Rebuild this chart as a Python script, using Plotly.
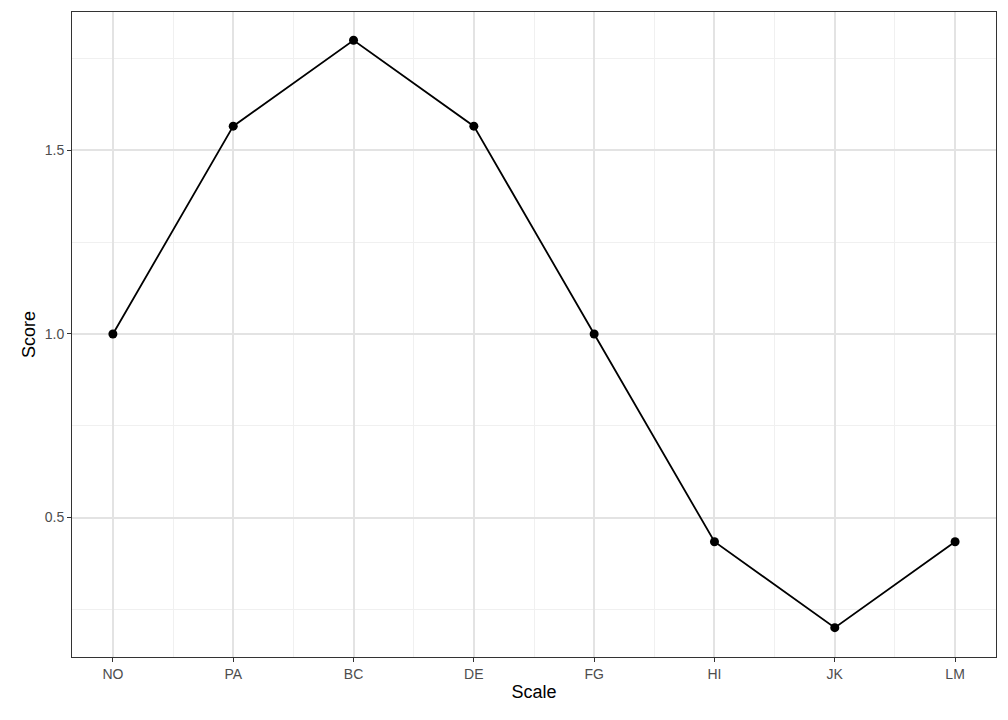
import plotly.graph_objects as go

categories = ["NO", "PA", "BC", "DE", "FG", "HI", "JK", "LM"]
scores = [1.0, 1.566, 1.8, 1.566, 1.0, 0.434, 0.2, 0.434]
xpos = list(range(len(categories)))

fig = go.Figure(go.Scatter(
    x=xpos, y=scores, mode="lines+markers",
    line=dict(color="black", width=1.8),
    marker=dict(color="black", size=9),
))
fig.update_layout(
    width=992, height=704,
    margin=dict(l=64, r=4, t=4, b=55),
    paper_bgcolor="white", plot_bgcolor="white",
    font=dict(family="Liberation Sans, Arial, sans-serif", color="#4d4d4d", size=14),
    showlegend=False,
)
fig.update_xaxes(
    range=[-0.34, 7.34], tickmode="array", tickvals=xpos, ticktext=categories,
    showgrid=True, gridcolor="#e3e3e3", gridwidth=1.5,
    minor=dict(tickmode="array", tickvals=[i + 0.5 for i in range(-1, 8)], showgrid=True, gridcolor="#f0f0f0", gridwidth=1),
    showline=True, linecolor="#333333", linewidth=1, mirror=True,
    ticks="outside", ticklen=4, tickcolor="#333333", zeroline=False,
    title=dict(text="Scale", font=dict(size=18, color="black"), standoff=4),
)
fig.update_yaxes(
    range=[0.12, 1.877], tickvals=[0.5, 1.0, 1.5], ticktext=["0.5", "1.0", "1.5"],
    showgrid=True, gridcolor="#e3e3e3", gridwidth=1.5,
    minor=dict(tickmode="array", tickvals=[0.25, 0.75, 1.25, 1.75], showgrid=True, gridcolor="#f0f0f0", gridwidth=1),
    showline=True, linecolor="#333333", linewidth=1, mirror=True,
    ticks="outside", ticklen=4, tickcolor="#333333", zeroline=False,
    title=dict(text="Score", font=dict(size=18, color="black"), standoff=4),
)
fig.write_html("out.html")
